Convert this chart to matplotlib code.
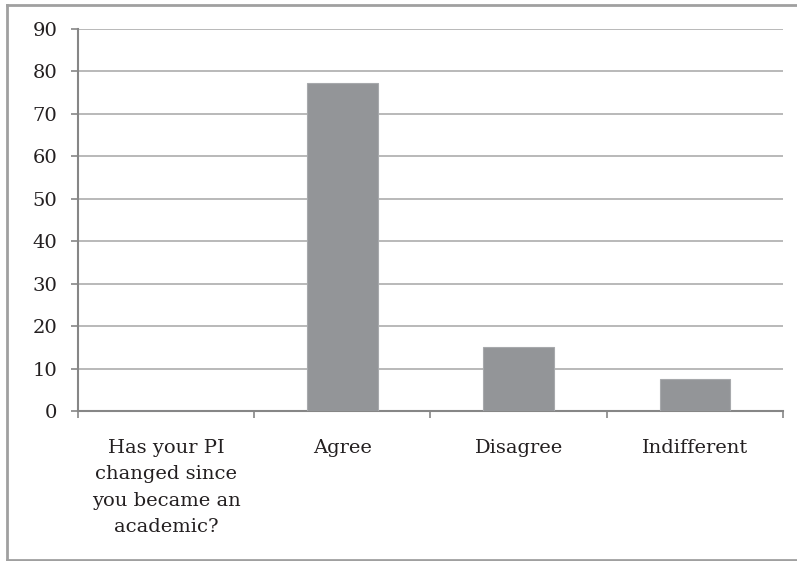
import matplotlib.pyplot as plt
from matplotlib.lines import Line2D
import numpy as np

categories = ["Has your PI\nchanged since\nyou became an\nacademic?", "Agree", "Disagree", "Indifferent"]
values = [0, 77.2, 15.1, 7.5]
y_ticks = [0, 10, 20, 30, 40, 50, 60, 70, 80, 90]

plt.rcParams['font.family'] = ['DejaVu Serif']

fig = plt.figure(figsize=(7.97, 5.61), dpi=100)
ax = fig.add_axes([0.0979, 0.2674, 0.8845, 0.6809])

x = np.arange(len(categories))
ax.bar(x, values, width=0.4, color='#939598', edgecolor='#a7a9ac', linewidth=0.8, zorder=3)

ax.set_xlim(-0.5, len(categories) - 0.5)
ax.set_ylim(0, 90)
ax.set_yticks(y_ticks)
ax.yaxis.grid(True, color='#a6a6a6', linewidth=1.1, zorder=0)

ax.set_xticks(x)
ax.set_xticklabels(categories, fontsize=14, color='#231f20', linespacing=1.6, va='top')
ax.set_xticks(np.arange(len(categories) + 1) - 0.5, minor=True)
ax.tick_params(axis='x', which='major', length=0, pad=20)
ax.tick_params(axis='x', which='minor', length=5, width=1.2, color='#868686', direction='out')
ax.tick_params(axis='y', labelsize=14, labelcolor='#231f20', length=5, width=1.2, color='#868686', pad=10)

for side in ['top', 'right']:
    ax.spines[side].set_visible(False)
for side in ['left', 'bottom']:
    ax.spines[side].set_color('#868686')
    ax.spines[side].set_linewidth(1.5)

# outer chart frame (top, left, bottom only; right side is cropped off)
x0, y0, y1 = 7 / 797, 1 - 560 / 561, 1 - 5 / 561
for xs, ys in [([x0, 1], [y1, y1]), ([x0, x0], [y0, y1]), ([x0, 1], [y0, y0])]:
    fig.add_artist(Line2D(xs, ys, transform=fig.transFigure, color='#a0a0a0', linewidth=2))

fig.savefig("out.png", dpi=100)
